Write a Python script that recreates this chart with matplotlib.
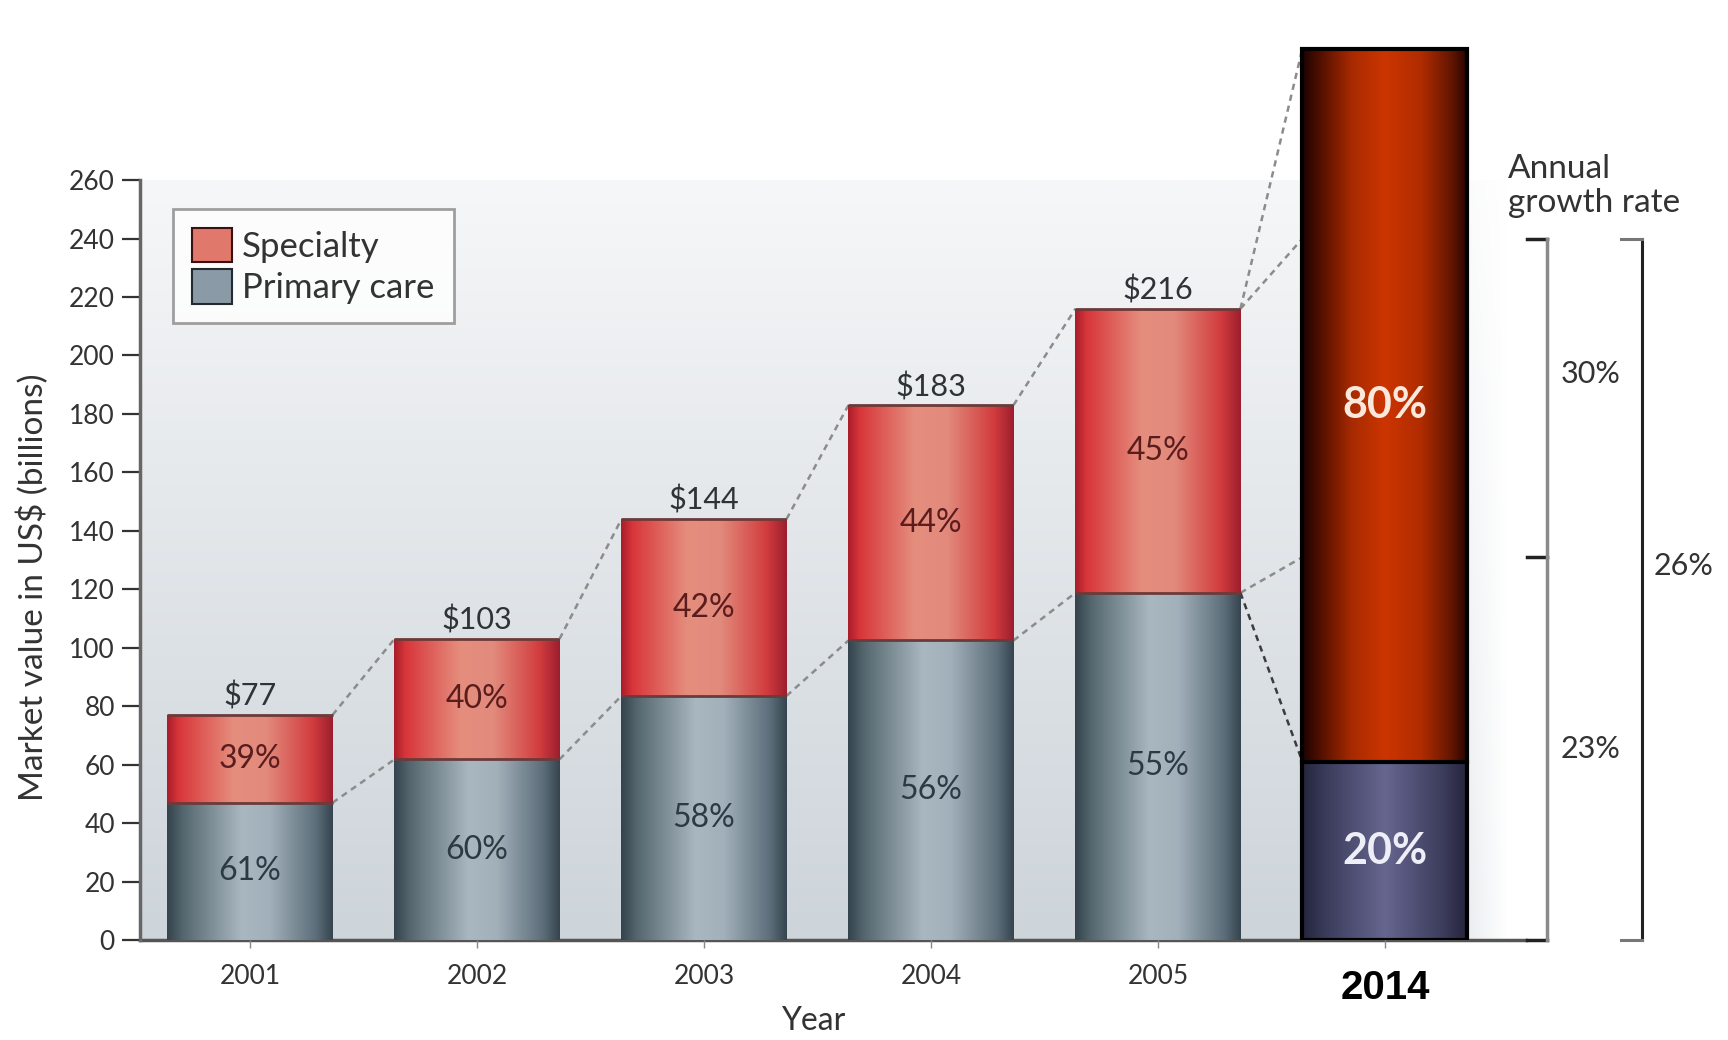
import numpy as np
import matplotlib.pyplot as plt
from matplotlib.colors import LinearSegmentedColormap, to_rgb
from matplotlib.patches import Patch
from matplotlib.transforms import blended_transform_factory

plt.rcParams['font.family'] = ['Lato', 'DejaVu Sans']

# market value by year (US$ billions) and split between segments (%)
years = ['2001', '2002', '2003', '2004', '2005']
totals = [77, 103, 144, 183, 216]
primary_share = [61, 60, 58, 56, 55]
specialty_share = [39, 40, 42, 44, 45]

# 2014 projection: drawn as a share split only, height is illustrative
proj_year = '2014'
proj_height = 305
proj_primary_share = 20
proj_specialty_share = 80

# annual growth rate brackets (levels where the bracket ticks sit)
growth_levels = [0, 131, 240]
growth_specialty = '30%'
growth_primary = '23%'
growth_total = '26%'

yticks = list(range(0, 261, 20))

primary_vals = [t * p / 100 for t, p in zip(totals, primary_share)]
specialty_vals = [t - p for t, p in zip(totals, primary_vals)]
proj_primary = proj_height * proj_primary_share / 100
proj_specialty = proj_height - proj_primary

spec_cmap = LinearSegmentedColormap.from_list('spec', [
    (0.0, '#a81e2a'), (0.07, '#d8363a'), (0.4, '#e58e7e'),
    (0.6, '#e28a7c'), (0.88, '#d23c3e'), (1.0, '#9c1e2e')])
prim_cmap = LinearSegmentedColormap.from_list('prim', [
    (0.0, '#34434d'), (0.1, '#56686f'), (0.45, '#a9b7c0'),
    (0.62, '#a2b0ba'), (0.9, '#5c6e7a'), (1.0, '#36454f')])
proj_spec_cmap = LinearSegmentedColormap.from_list('pspec', [
    (0.0, '#1c0300'), (0.1, '#4e0e00'), (0.3, '#a82a02'),
    (0.5, '#cc3500'), (0.72, '#b02c00'), (0.9, '#641600'), (1.0, '#260400')])
proj_prim_cmap = LinearSegmentedColormap.from_list('pprim', [
    (0.0, '#24243c'), (0.15, '#3c3d5c'), (0.5, '#66668f'),
    (0.85, '#3c3c5c'), (1.0, '#24243c')])

x = np.arange(len(years) + 1)
width = 0.727
xmin, xmax = -0.4846, 6.388

fig = plt.figure(figsize=(17.28, 10.4), dpi=100)
ax = fig.add_axes([140 / 1728, 100 / 1040, 1560 / 1728, 906 / 1040])
ax.set_facecolor('none')

# background panel, light at top and blue-grey at the bottom
panel_right = 5.55
ny, nx = 200, 300
top_c = np.array(to_rgb('#f6f7f8'))
bot_c = np.array(to_rgb('#cdd4da'))
t = np.linspace(0, 1, ny)[:, None, None]
rgb = top_c * (1 - t) + bot_c * t
rgba = np.ones((ny, nx, 4))
rgba[..., :3] = np.broadcast_to(rgb, (ny, nx, 3))
fade = np.clip((np.linspace(0, 1, nx) - 0.93) / 0.07, 0, 1)
rgba[..., 3] = 1 - fade[None, :]
ax.imshow(rgba, extent=(xmin, panel_right, 0, 260), aspect='auto',
          interpolation='bilinear', zorder=0)


def shade(patch, cmap):
    x0, y0 = patch.get_x(), patch.get_y()
    w, h = patch.get_width(), patch.get_height()
    grad = np.linspace(0, 1, 256).reshape(1, -1)
    im = ax.imshow(grad, cmap=cmap, aspect='auto', interpolation='bicubic',
                   extent=(x0, x0 + w, y0, y0 + h), zorder=2)
    im.set_clip_path(patch)


prim_bars = ax.bar(x[:5], primary_vals, width=width, color='none',
                   edgecolor='none', zorder=2)
spec_bars = ax.bar(x[:5], specialty_vals, bottom=primary_vals, width=width,
                   color='none', edgecolor='none', zorder=2)
for p in prim_bars:
    shade(p, prim_cmap)
for p in spec_bars:
    shade(p, spec_cmap)
for i in range(5):
    for top in (primary_vals[i], totals[i]):
        ax.plot([x[i] - width / 2, x[i] + width / 2], [top, top],
                color='#6b3a3a', lw=2, zorder=3, solid_capstyle='butt')

# 2014 bar
pp = ax.bar(x[5], proj_primary, width=width, color='none', edgecolor='none', zorder=2)[0]
ps = ax.bar(x[5], proj_specialty, bottom=proj_primary, width=width,
            color='none', edgecolor='none', zorder=2)[0]
shade(pp, proj_prim_cmap)
shade(ps, proj_spec_cmap)
ax.bar(x[5], proj_height, width=width, color='none', edgecolor='black', lw=3, zorder=4)
ax.plot([x[5] - width / 2, x[5] + width / 2], [proj_primary, proj_primary],
        color='black', lw=3, zorder=4)

# dashed connectors between consecutive bars
dash = dict(color='#8c8c8c', lw=1.8, ls=(0, (2.5, 2)), zorder=1)
for i in range(4):
    xa, xb = x[i] + width / 2, x[i + 1] - width / 2
    ax.plot([xa, xb], [totals[i], totals[i + 1]], **dash)
    ax.plot([xa, xb], [primary_vals[i], primary_vals[i + 1]], **dash)
xa, xb = x[4] + width / 2, x[5] - width / 2
ax.plot([xa, xb], [totals[4], proj_height], **dash)
ax.plot([xa, xb], [totals[4], growth_levels[2]], **dash)
ax.plot([xa, xb], [primary_vals[4], growth_levels[1]], **dash)
ax.plot([xa, xb], [primary_vals[4], proj_primary], color='#3c3c3c', lw=1.8,
        ls=(0, (2.5, 2)), zorder=1)

# labels on bars
for i in range(5):
    ax.annotate(f'${totals[i]}', (x[i], totals[i]), xytext=(0, 3),
                textcoords='offset points', ha='center', va='bottom',
                fontsize=22, color='#2e3338')
    ax.text(x[i], primary_vals[i] + specialty_vals[i] / 2, f'{specialty_share[i]}%',
            ha='center', va='center', fontsize=23, color='#5a1c1c', zorder=5)
    ax.text(x[i], primary_vals[i] / 2, f'{primary_share[i]}%',
            ha='center', va='center', fontsize=23, color='#2c3a44', zorder=5)
ax.text(x[5], proj_primary + proj_specialty / 2, f'{proj_specialty_share}%',
        ha='center', va='center', fontsize=31, fontweight='bold', color='#fbe8dc', zorder=5)
ax.text(x[5], proj_primary / 2, f'{proj_primary_share}%',
        ha='center', va='center', fontsize=31, fontweight='bold', color='#eeeef8', zorder=5)

# growth rate brackets
bx1, bx2 = 5.714, 6.132
tick = 0.09
ax.plot([bx1, bx1], [growth_levels[0], growth_levels[2]], color='#8a8a8a', lw=2.5,
        clip_on=False, zorder=3)
for lv in growth_levels:
    ax.plot([bx1 - tick, bx1], [lv, lv], color='#222222', lw=2.5, clip_on=False)
ax.plot([bx2, bx2], [growth_levels[0], growth_levels[2]], color='#222222', lw=2.2,
        clip_on=False)
for lv in (growth_levels[0], growth_levels[2]):
    ax.plot([bx2 - tick, bx2], [lv, lv], color='#777777', lw=2.2, clip_on=False)
ax.text(5.905, (growth_levels[1] + growth_levels[2]) / 2 + 8, growth_specialty,
        ha='center', va='center', fontsize=22, color='#333333')
ax.text(5.905, (growth_levels[0] + growth_levels[1]) / 2, growth_primary,
        ha='center', va='center', fontsize=22, color='#333333')
ax.text(6.317, growth_levels[1] - 3, growth_total,
        ha='center', va='center', fontsize=22, color='#333333')
ax.text(5.54, 258, 'Annual\ngrowth rate', ha='left', va='center',
        fontsize=24, color='#333333', linespacing=1.15)

# legend
handles = [Patch(facecolor='#e0786c', edgecolor='#3a1010', lw=1.5, label='Specialty'),
           Patch(facecolor='#8a9aa6', edgecolor='#222a30', lw=1.5, label='Primary care')]
leg = ax.legend(handles=handles, loc='upper left', bbox_to_anchor=(0.021, 0.807),
                borderaxespad=0, fontsize=25, frameon=True, fancybox=False,
                handlelength=1.15, handleheight=1.15, handletextpad=0.3,
                labelspacing=0.18, borderpad=0.55, labelcolor='#333333')
leg.get_frame().set_edgecolor('#888888')
leg.get_frame().set_linewidth(2)

# axes styling
ax.set_xlim(xmin, xmax)
ax.set_ylim(0, 310)
for side in ('top', 'right'):
    ax.spines[side].set_visible(False)
ax.spines['left'].set_bounds(0, 260)
ax.spines['left'].set_color('#666666')
ax.spines['left'].set_linewidth(2.5)
ax.spines['bottom'].set_bounds(xmin, 5.62)
ax.spines['bottom'].set_color('#555555')
ax.spines['bottom'].set_linewidth(2.5)
ax.spines['bottom'].set_zorder(1)
ax.set_yticks(yticks)
ax.tick_params(axis='y', direction='out', length=13, width=1.6, color='#333333',
               labelsize=19, labelcolor='#333333', pad=5)
ax.set_xticks(x)
ax.set_xticklabels(years + [''])
ax.tick_params(axis='x', direction='out', length=6, width=1, color='#888888',
               labelsize=19, labelcolor='#333333', pad=11)

trans = blended_transform_factory(ax.transData, fig.transFigure)
ax.text(x[5], 1 - 988 / 1040, proj_year, transform=trans, ha='center', va='center',
        fontsize=29, fontweight='bold', color='black',
        family=['Liberation Sans', 'DejaVu Sans'])
ax.text(2.48, 1 - 1021 / 1040, 'Year', transform=trans, ha='center', va='center',
        fontsize=23, color='#333333')
fig.text(33 / 1728, 1 - 587 / 1040, 'Market value in US$ (billions)', rotation=90,
         ha='center', va='center', fontsize=24, color='#333333')

fig.savefig('out.png', dpi=100)
